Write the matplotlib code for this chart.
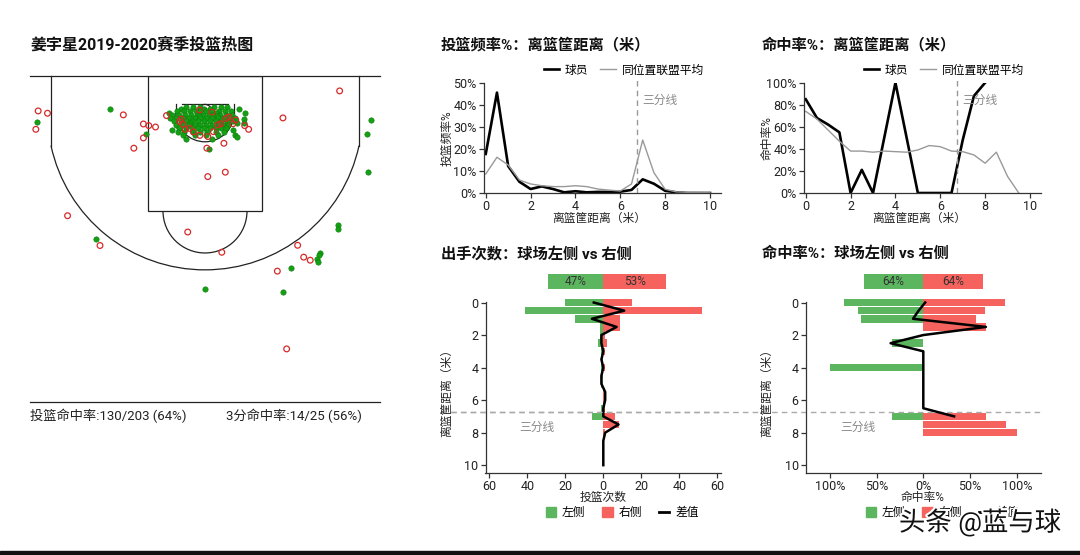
import numpy as np
import matplotlib
matplotlib.use("Agg")
from matplotlib import pyplot as plt
from matplotlib.patches import Rectangle, Arc, Circle, Patch
from matplotlib.lines import Line2D
import matplotlib.patheffects as pe

plt.rcParams["font.family"] = ["Roboto", "Noto Sans CJK SC", "DejaVu Sans"]

# ---- data ----
made_x = [-7.22, -4.08, -2.52, 7.1, 6.96, 7.0, 5.7, 5.72, 4.93, 4.87, 4.78, 4.84,
          3.7, 3.34, 0.02, -4.69, 1.45, 1.71, 1.67, 1.65, 1.27, 1.38, 0.19]
made_y = [1.97, 1.43, 2.49, 1.89, 2.49, 4.13, 6.4, 6.55, 7.58, 7.7, 7.85, 8.0,
          8.24, 9.28, 9.13, 7.0, 1.43, 1.6, 1.86, 2.03, 2.53, 2.6, 3.13]
# dense cluster under the rim, row by row (y: list of x)
cluster_rows = {
    1.33: [-0.8, -0.5, -0.2, 0.4, 0.7, 0.95],
    1.43: [-0.05, 0.2, -1.05],
    1.5: [-1.2, -0.9, -0.65, -0.4, -0.2, 0.05, 0.3, 0.6, 0.85, 1.1],
    1.58: [-1.55, 0.45],
    1.66: [-1.4, -1.1, -0.85, -0.6, -0.35, -0.1, 0.15, 0.35, 0.65, 0.9, 1.15],
    1.73: [-0.25, 0.5, 1.0],
    1.81: [-1.5, -1.25, -0.95, -0.7, -0.45, -0.2, 0.05, 0.3, 0.55, 0.8, 1.05, 1.3],
    1.95: [-1.35, -1.05, -0.8, -0.55, -0.3, -0.05, 0.2, 0.45, 0.7, 0.95, 1.2],
    2.02: [-0.65, 0.6, 1.35],
    2.1: [-1.25, -0.95, -0.7, -0.45, -0.2, 0.05, 0.3, 0.55, 0.8, 1.0],
    2.24: [-1.1, -0.8, -0.55, -0.3, -0.05, 0.2, 0.45, 0.7, 0.9],
    2.32: [-1.4, 1.2],
    2.4: [-1.15, -0.9, -0.5, -0.2, 0.1, 0.45, 0.8],
    2.55: [-0.95, -0.45, 0.05, 0.55],
    2.7: [-0.8, 0.3],
}
for yy, xs in cluster_rows.items():
    made_x += xs
    made_y += [yy] * len(xs)

miss_x = [-7.15, -6.75, -7.25, -3.5, -2.64, -2.41, -2.12, -2.64, -3.05, -1.65,
          0.12, 0.87, 0.81, 0.08, 0.12, -0.22, 1.87, 1.32, 3.34, 5.77, -5.89,
          -4.5, -0.74, 0.72, 3.97, 4.23, 4.51, 3.1, 3.5, 1.7, 0.36,
          -1.02, -1.09, -0.95, -0.85, -0.67, -0.24, 0.91, 1.02, 0.55, 0.68,
          1.2, 0.3, -0.5]
miss_y = [1.5, 1.6, 2.29, 1.67, 2.06, 2.13, 2.19, 2.66, 3.1, 1.7,
          4.32, 4.13, 2.89, 3.1, 2.6, 2.55, 2.29, 1.89, 1.8, 0.64, 6.0,
          7.28, 6.7, 7.57, 7.27, 7.78, 7.91, 8.38, 11.72, 2.13, 2.39,
          1.85, 1.95, 2.07, 2.29, 2.25, 1.46, 1.82, 1.76, 2.1, 2.05,
          2.05, 1.55, 2.4]

fg_text = "投篮命中率:130/203 (64%)"
fg3_text = "3分命中率:14/25 (56%)"

dist = [0, 0.5, 1, 1.5, 2, 2.5, 3, 3.5, 4, 4.5, 5, 5.5, 6, 6.5, 7, 7.5, 8, 8.5, 9, 9.5, 10]
freq_player = [17.7, 45.5, 12.2, 5.1, 1.8, 3.0, 1.8, 0.3, 0.8, 0.3, 0.5, 0.5, 0.6, 1.4,
               6.2, 4.2, 1.0, 0.3, 0, 0, 0]
freq_league = [8.6, 16.2, 12.7, 5.9, 4.1, 3.3, 2.9, 2.9, 3.3, 2.9, 1.8, 1.3, 0.9, 4.1,
               24.0, 9.2, 1.7, 0.5, 0.3, 0.2, 0.1]

fg_player_dist = [0, 0.5, 1, 1.5, 2, 2.5, 3, 4, 5, 5.5, 6, 6.5, 7, 7.5, 8]
fg_player = [85, 68, 62, 55, 0, 21, 0, 100, 0, 0, 0, 0, 48, 88, 100]
fg_league_dist = [0, 0.5, 1, 1.5, 2, 2.5, 3, 3.5, 4, 4.5, 5, 5.5, 6, 6.5, 7, 7.5, 8, 8.5, 9, 9.5]
fg_league = [74, 67, 57, 47, 38, 38, 37, 38, 37.5, 37, 39, 43, 42, 38, 37.5, 34.5, 27, 37, 15, 0]

side_dist = dist
left_cnt = [20, 41, 15, 2, 2, 3, 1, 1, 1, 1, 1, 0, 0, 1, 6, 0, 0, 0, 0, 0, 0]
right_cnt = [15, 52, 9, 9, 1, 2, 1, 0, 1, 0, 0, 1, 1, 1, 6, 8, 1, 0, 0, 0, 0]
cnt_pct = [47, 53]

fg_left_dist = [0, 0.5, 1, 2.5, 4, 7]
fg_left = [85, 70, 67, 33, 100, 33]
fg_right_dist = [0, 0.5, 1, 1.5, 7, 7.5, 8]
fg_right = [87, 66, 56, 67, 67, 88, 100]
fg_diff_dist = [0, 0.5, 1, 1.5, 2, 2.5, 3, 3.5, 4, 4.5, 5, 5.5, 6, 6.5, 7]
fg_diff = [2, -5, -11, 67, 0, -35, 0, 0, 0, 0, 0, 0, 0, 0, 33]
fg_pct = [64, 64]

# ---- layout ----
W, H = 1080, 555
GREEN = "#5cb65f"
RED = "#f6625e"
DOT_GREEN = "#13a013"
GRAY = "#999999"
TXT = "#222222"

fig = plt.figure(figsize=(W / 100, H / 100), dpi=100)


def px_box(l, t, r, b):
    return [l / W, 1 - b / H, (r - l) / W, (b - t) / H]


def ftext(x, y, s, **kw):
    return fig.text(x / W, 1 - y / H, s, **kw)


# ---- shot chart ----
ax = fig.add_axes(px_box(30, 76, 380, 402))
ax.set_xlim(-7.5, 7.5)
ax.set_ylim(14, 0)
ax.axis("off")
lc = dict(color="#222", lw=0.9, clip_on=False)
ax.plot([-7.5, 7.5], [0, 0], **lc)
ax.plot([-7.5, 7.5], [14, 14], **lc)
ax.add_patch(Rectangle((-2.45, 0), 4.9, 5.8, fill=False, ec="#222", lw=0.9))
corner = 1.575 + np.sqrt(6.75 ** 2 - 6.6 ** 2)
ax.plot([-6.6, -6.6], [0, corner], **lc)
ax.plot([6.6, 6.6], [0, corner], **lc)
ang = np.degrees(np.arcsin((corner - 1.575) / 6.75))
ax.add_patch(Arc((0, 1.575), 13.5, 13.5, theta1=ang, theta2=180 - ang, ec="#222", lw=0.9))
ax.add_patch(Arc((0, 5.8), 3.6, 3.6, theta1=0, theta2=180, ec="#222", lw=0.9))
ax.add_patch(Arc((0, 1.575), 2.5, 2.5, theta1=0, theta2=180, ec="#222", lw=0.9))
ax.plot([-1.25, -1.25], [1.2, 1.575], **lc)
ax.plot([1.25, 1.25], [1.2, 1.575], **lc)
ax.plot([-1.0, 1.0], [1.2, 1.2], **lc)
ax.add_patch(Circle((0, 1.5), 0.28, fill=False, ec="#222", lw=0.9))
ax.scatter(made_x, made_y, s=15, c=DOT_GREEN, edgecolors="#0c7d0c", linewidths=0.4,
           clip_on=False, zorder=3)
ax.scatter(miss_x, miss_y, s=17, facecolors="none", edgecolors="#d62a2a",
           linewidths=0.9, clip_on=False, zorder=4)

ftext(30, 45, "姜宇星2019-2020赛季投篮热图", fontsize=11.5, fontweight="bold",
      va="center", color="#111")
ftext(30, 416, fg_text, fontsize=9.5, va="center", color=TXT)
ftext(226, 416, fg3_text, fontsize=9.5, va="center", color=TXT)


def style(a):
    for s in ["top", "right"]:
        a.spines[s].set_visible(False)
    for s in ["left", "bottom"]:
        a.spines[s].set_color("#333")
        a.spines[s].set_linewidth(0.9)
    a.tick_params(labelsize=9, length=3.5, width=0.9, color="#333",
                  labelcolor=TXT, pad=1.5)


# ---- frequency by distance ----
ax1 = fig.add_axes(px_box(483.5, 82.7, 721.2, 193))
ax1.plot(dist, freq_player, color="black", lw=1.9, label="球员")
ax1.plot(dist, freq_league, color=GRAY, lw=1.0, label="同位置联盟平均")
ax1.set_xlim(-0.1, 10.5)
ax1.set_ylim(0, 50)
style(ax1)
ax1.spines["left"].set_bounds(0, 50)
ax1.set_xticks(range(0, 11, 2))
ax1.set_yticks(range(0, 51, 10))
ax1.set_yticklabels([f"{v}%" for v in range(0, 51, 10)])
ax1.plot([6.75, 6.75], [0, 51], color=GRAY, ls=(0, (4, 3)), lw=1, clip_on=False)
ax1.text(7.0, 42, "三分线", color="#888", fontsize=8.5, va="center")
ax1.legend(ncol=2, frameon=False, fontsize=8.5, handlelength=1.3, handletextpad=0.5,
           columnspacing=1.0, loc="center", bbox_to_anchor=(0.59, 1.115))

# ---- FG% by distance ----
ax2 = fig.add_axes(px_box(803.5, 82.7, 1041.2, 193))
ax2.plot(fg_player_dist, fg_player, color="black", lw=1.9, label="球员")
ax2.plot(fg_league_dist, fg_league, color=GRAY, lw=1.0, label="同位置联盟平均")
ax2.set_xlim(-0.1, 10.5)
ax2.set_ylim(0, 100)
style(ax2)
ax2.spines["left"].set_bounds(0, 100)
ax2.set_xticks(range(0, 11, 2))
ax2.set_yticks(range(0, 101, 20))
ax2.set_yticklabels([f"{v}%" for v in range(0, 101, 20)])
ax2.plot([6.75, 6.75], [0, 102], color=GRAY, ls=(0, (4, 3)), lw=1, clip_on=False)
ax2.text(7.0, 84, "三分线", color="#888", fontsize=8.5, va="center")
ax2.legend(ncol=2, frameon=False, fontsize=8.5, handlelength=1.3, handletextpad=0.5,
           columnspacing=1.0, loc="center", bbox_to_anchor=(0.59, 1.115))

ftext(441, 45, "投篮频率%：离篮筐距离（米）", fontsize=11, fontweight="bold", va="center", color="#111")
ftext(762, 45, "命中率%：离篮筐距离（米）", fontsize=11, fontweight="bold", va="center", color="#111")
ftext(447, 138, "投篮频率%", fontsize=8.5, rotation=90, ha="center", va="center", color=TXT)
ftext(767, 138, "命中率%", fontsize=8.5, rotation=90, ha="center", va="center", color=TXT)
ftext(599, 218, "离篮筐距离（米）", fontsize=8.5, ha="center", va="center", color=TXT)
ftext(919, 218, "离篮筐距离（米）", fontsize=8.5, ha="center", va="center", color=TXT)


def side_axes(box, lim, left_vals, left_d, right_vals, right_d, diff_vals, diff_d,
              pct, scale, ticks, ticklabels, xlabel, label_x):
    a = fig.add_axes(px_box(*box))
    a.barh(left_d, [-v for v in left_vals], height=0.46, color=GREEN)
    a.barh(right_d, right_vals, height=0.46, color=RED)
    a.plot(diff_vals, diff_d, color="black", lw=1.8, zorder=3)
    a.barh(-1.3, -pct[0] * scale, height=0.92, color=GREEN)
    a.barh(-1.3, pct[1] * scale, height=0.92, color=RED)
    a.text(-pct[0] * scale / 2, -1.3, f"{pct[0]}%", ha="center", va="center",
           fontsize=8.5, color="#333")
    a.text(pct[1] * scale / 2, -1.3, f"{pct[1]}%", ha="center", va="center",
           fontsize=8.5, color="#333")
    a.set_xlim(-lim, lim)
    a.set_ylim(10.5, -2.0)
    style(a)
    a.spines["left"].set_bounds(-0.05, 10.5)
    a.set_yticks(range(0, 11, 2))
    a.set_xticks(ticks)
    a.set_xticklabels(ticklabels)
    x_left = -lim - (box[0] - 441) / (box[2] - box[0]) * 2 * lim
    a.plot([x_left, lim], [6.75, 6.75], color="#aaa", ls=(0, (4, 3)), lw=1,
           clip_on=False)
    a.text(-lim * 0.56, 7.7, "三分线", color="#888", fontsize=8.5, ha="center",
           va="center")
    handles = [Patch(color=GREEN), Patch(color=RED), Line2D([], [], color="black", lw=2)]
    a.legend(handles, ["左侧", "右侧", "差值"], ncol=3, frameon=False, fontsize=8.5,
             handlelength=0.9, handleheight=0.9, handletextpad=0.5, columnspacing=1.4,
             loc="center", bbox_to_anchor=(0.58, -0.195))
    ftext(label_x, 497, xlabel, fontsize=8.5, ha="center", va="center", color=TXT)
    ftext(box[0] - 39, 390, "离篮筐距离（米）", fontsize=8.5, rotation=90,
          ha="center", va="center", color=TXT)
    return a


ax3 = side_axes((485.5, 270, 721.1, 473.3), 62, left_cnt, side_dist, right_cnt,
                side_dist, [r - l for l, r in zip(left_cnt, right_cnt)], side_dist,
                cnt_pct, 0.62, range(-60, 61, 20),
                [str(abs(v)) for v in range(-60, 61, 20)], "投篮次数", 603)
ax4 = side_axes((805.6, 270, 1041, 473.3), 126, fg_left, fg_left_dist, fg_right,
                fg_right_dist, fg_diff, fg_diff_dist, fg_pct, 1.0,
                range(-100, 101, 50), [f"{abs(v)}%" for v in range(-100, 101, 50)],
                "命中率%", 923)
ftext(441, 254, "出手次数：球场左侧 vs 右侧", fontsize=11, fontweight="bold", va="center", color="#111")
ftext(762, 254, "命中率%：球场左侧 vs 右侧", fontsize=11, fontweight="bold", va="center", color="#111")

# watermark and bottom border
ftext(980, 522, "头条 @蓝与球", fontsize=19, ha="center", va="center", color="#111",
      path_effects=[pe.withStroke(linewidth=3, foreground="white")], zorder=10)
fig.add_artist(Rectangle((0, 0), 1, 4 / H, transform=fig.transFigure, color="#111"))

fig.savefig("out.png", dpi=100)
